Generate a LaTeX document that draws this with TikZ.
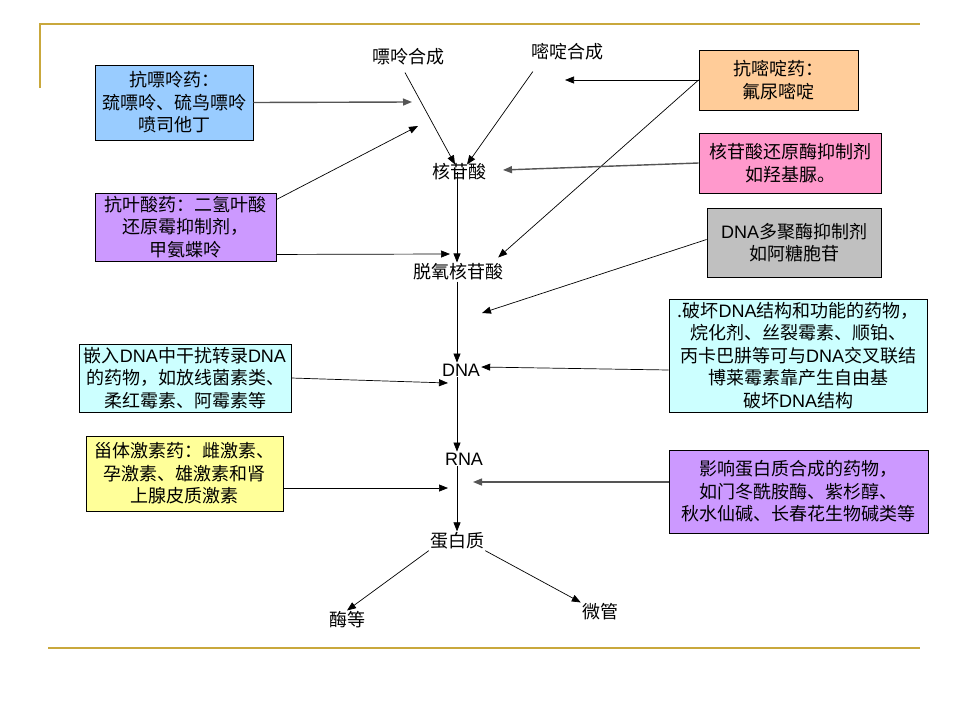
\documentclass[tikz,border=0pt]{standalone}
\usepackage{fontspec}
\setmainfont{Noto Sans CJK SC}
\newfontfamily\arial{Liberation Sans}
\usetikzlibrary{arrows.meta}

\newcommand\dna{{\arial DNA}}
\newcommand\rna{{\arial RNA}}

\definecolor{gold}{RGB}{201,168,60}
\definecolor{sky}{RGB}{153,204,255}
\definecolor{lilac}{RGB}{204,153,255}
\definecolor{peach}{RGB}{255,204,153}
\definecolor{rose}{RGB}{255,153,204}
\definecolor{silver}{RGB}{192,192,192}
\definecolor{ice}{RGB}{204,255,255}
\definecolor{lemon}{RGB}{255,255,153}
\definecolor{dim}{RGB}{85,85,85}

\tikzset{
    drug/.style={draw,align=center,inner sep=2pt,line width=0.9pt},
    stage/.style={inner sep=1pt},
    arr/.style={-{Triangle[length=9pt,width=7pt]},line width=0.7pt},
    grayarr/.style={arr,draw=dim,line width=1.4pt},
    rule/.style={gold,line width=2.5pt}
    }

\begin{document}
\begin{tikzpicture}[x=1pt,y=-1pt,font=\fontsize{18}{22.5}\selectfont]
                \useasboundingbox (0,0) rectangle (960,720);
                % the slide rules
                \draw[rule] (40,88) -- (40,24) -- (920,24);
                \draw[rule] (48,648) -- (920,648);

                % the pathway
                \node[stage] (pl) at (408,57) {嘌呤合成};
                \node[stage] (md) at (567,52) {嘧啶合成};
                \node[stage] (hg) at (459,172) {核苷酸};
                \node[stage] (tq) at (458,272) {脱氧核苷酸};
                \node[stage] (dna) at (461,370) {\dna};
                \node[stage] (rna) at (464,459) {\rna};
                \node[stage] (dbz) at (457,541) {蛋白质};
                \node[stage] (me) at (347,620) {酶等};
                \node[stage] (wg) at (600,612) {微管};
                \coordinate (col) at (457,0);

                % the drugs
                \node[drug,fill=sky,minimum width=158pt,minimum height=75pt] (kp) at (174,102.5)
                    {抗嘌呤药：\\巯嘌呤、硫鸟嘌呤\\喷司他丁};
                \node[drug,fill=lilac,minimum width=181pt,minimum height=68pt] (ky) at (185.5,227)
                    {抗叶酸药：二氢叶酸\\还原霉抑制剂，\\甲氨蝶呤};
                \node[drug,fill=peach,minimum width=159pt,minimum height=60pt] (kd) at (778.5,80)
                    {抗嘧啶药：\\氟尿嘧啶};
                \node[drug,fill=rose,minimum width=182pt,minimum height=60pt] (hr) at (790,163)
                    {核苷酸还原酶抑制剂\\如羟基脲。};
                \node[drug,fill=silver,minimum width=174pt,minimum height=69pt] (dp) at (794,242.5)
                    {\dna 多聚酶抑制剂\\如阿糖胞苷};
                \node[drug,fill=ice,minimum width=258pt,minimum height=113pt,inner sep=0pt,
                    font=\fontsize{18}{22.5}\selectfont] (ph) at (798,355.5)
                    {.破坏\dna 结构和功能的药物，\\烷化剂、丝裂霉素、顺铂、\\丙卡巴肼等可与\dna 交叉联结\\博莱霉素靠产生自由基\\破坏\dna 结构};
                \node[drug,fill=ice,minimum width=212pt,minimum height=68pt] (qr) at (185,378)
                    {嵌入\dna 中干扰转录\dna\\的药物，如放线菌素类、\\柔红霉素、阿霉素等};
                \node[drug,fill=lemon,minimum width=197pt,minimum height=75pt] (gt) at (184.5,473.5)
                    {甾体激素药：雌激素、\\孕激素、雄激素和肾\\上腺皮质激素};
                \node[drug,fill=lilac,minimum width=259pt,minimum height=83pt] (yx) at (798.5,491.5)
                    {影响蛋白质合成的药物，\\如门冬酰胺酶、紫杉醇、\\秋水仙碱、长春花生物碱类等};

                % free ends of the drug arrows
                \coordinate (e1) at (412,102);
                \coordinate (e2) at (418,126);
                \coordinate (e3) at (450,254);
                \coordinate (e4) at (565,80);
                \coordinate (e5) at (503,170);
                \coordinate (e6) at (482,313);
                \coordinate (e7) at (448,383);
                \coordinate (e8) at (448,488);
                \coordinate (e9) at (473,482);

                % the links
                \draw[arr] ([xshift=-3pt,yshift=-6pt]pl.south) -- ([xshift=-4pt,yshift=-2pt]hg.north);
                \draw[arr] ([xshift=3pt,yshift=-10pt]md.south west) -- ([xshift=8pt,yshift=-2pt]hg.north);
                \draw[arr] (hg.center -| col) -- (tq.north -| col);
                \draw[arr] (tq.south -| col) -- (dna.north -| col);
                \draw[arr] (dna.south -| col) -- (rna.north -| col);
                \draw[arr] (rna.south -| col) -- (dbz.north -| col);
                \draw[arr] (dbz.south west) -- (me.north);
                \draw[arr] (dbz.south east) -- (wg.north west);

                \draw[grayarr] (kp.east) -- (e1);
                \draw[arr] ([yshift=-7pt]ky.north east) -- (e2);
                \draw[arr] ([yshift=7pt]ky.south east) -- (e3);
                \draw[arr] (kd.west) -- (e4);
                \draw[arr] (kd.west) -- ([xshift=-6pt,yshift=5pt]tq.north east);
                \draw[grayarr] (hr.west) -- (e5);
                \draw[arr] ([yshift=3pt]dp.west) -- (e6);
                \draw[arr] (dna.east -| ph.west) -- ([yshift=3pt]dna.east);
                \draw[arr] (qr.east) -- (e7);
                \draw[arr] ([yshift=-14.5pt]gt.east) -- (e8);
                \draw[grayarr] ([yshift=9.5pt]yx.west) -- (e9);
            \end{tikzpicture}
\end{document}
